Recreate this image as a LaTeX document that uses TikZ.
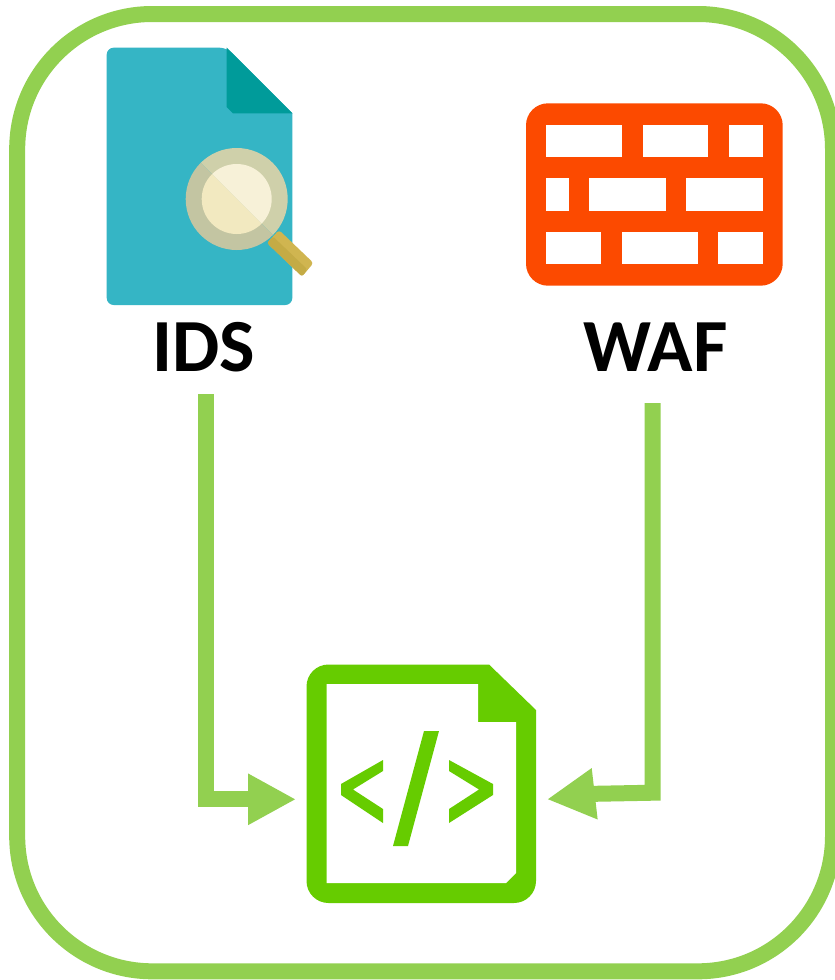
\documentclass[tikz,border=0pt]{standalone}
\usepackage{fontspec}
\setmainfont{Carlito}
\usetikzlibrary{arrows.meta}
\definecolor{framegreen}{HTML}{92D050}
\definecolor{codegreen}{HTML}{66CC00}
\definecolor{doc}{HTML}{35B5C5}
\definecolor{fold}{HTML}{009B9A}
\definecolor{ringA}{HTML}{CFD0AA}
\definecolor{ringB}{HTML}{C3C5A2}
\definecolor{lensA}{HTML}{F7F1D8}
\definecolor{lensB}{HTML}{F2E9C0}
\definecolor{handleA}{HTML}{D0B550}
\definecolor{handleB}{HTML}{C4AB45}
\definecolor{brick}{HTML}{FC4A00}
\tikzset{
  biglabel/.style={anchor=base,inner sep=0pt,font=\fontsize{75}{75}\selectfont\bfseries},
  hole/.style={fill=white,draw=none},
  flowline/.style={draw=framegreen,line width=16pt,-{Triangle[length=48pt,width=48pt,fill=framegreen]}},
  codemark/.style={fill=codegreen,draw=none}
}
\begin{document}
\begin{tikzpicture}[x=1pt,y=-1pt]
\useasboundingbox (0,0) rectangle (835,980);
\fill[white] (0,0) rectangle (835,980);
% frame
\begin{scope}
\clip (0,0) rectangle (835,980);
\draw[framegreen,line width=16pt,rounded corners=135pt] (17.2,14) rectangle (833,971.3);
\end{scope}
% IDS icon
\fill[doc,rounded corners=7pt] (106.7,47.7) -- (226.7,47.7) [sharp corners] -- (292.3,113.3) [rounded corners=7pt] -- (292.3,305) -- (106.7,305) -- cycle;
\fill[fold] (226.7,47.7) -- (292.3,113.3) -- (233,113.3) -- (226.7,107) -- cycle;
\fill[handleA,rounded corners=3pt] (279,230) -- (313.5,263) -- (302,276.5) -- (267,243) -- cycle;
\fill[handleB,rounded corners=2pt] (273,236.5) -- (307.5,269.5) -- (302,276.5) -- (267,243) -- cycle;
\begin{scope}
  \clip (236.7,199) circle (51pt);
  \fill[ringA] (170,132) -- (304,266) -- (304,132) -- cycle;
  \fill[ringB] (170,132) -- (304,266) -- (170,266) -- cycle;
\end{scope}
\begin{scope}
  \clip (236.7,199) circle (35pt);
  \fill[lensA] (170,132) -- (304,266) -- (304,132) -- cycle;
  \fill[lensB] (170,132) -- (304,266) -- (170,266) -- cycle;
\end{scope}
% WAF icon
\fill[brick,rounded corners=22pt] (526,103.3) rectangle (782.7,285.7);
\foreach \a/\b/\c/\d in {546/622.3/125/157.3,642.7/708.3/125/157.3,729/762.7/125/157.3,
  546/568.7/178.3/211.3,589/665.7/178.3/211.3,686/762.7/178.3/211.3,
  546/600.7/232/264.3,622.3/697.7/232/264.3,718.3/762.7/232/264.3}
  \fill[hole] (\a,\c) rectangle (\b,\d);
% code icon
\fill[codegreen,rounded corners=22pt] (306.5,664.5) [sharp corners] -- (489,664.5) -- (536,710) [rounded corners=22pt] -- (536,903) -- (306.5,903) -- cycle;
\fill[white] (326.5,684) -- (478,684) -- (478,722) -- (516,722) -- (516,873) -- (506,883) -- (326.5,883) -- cycle;
\fill[codemark] (383,760) -- (383,771) -- (353,789.5) -- (383,809) -- (383,823) -- (341,795) -- (341,784) -- cycle;
\fill[codemark] (449,760) -- (449,771) -- (479,789.5) -- (449,809) -- (449,823) -- (493,795) -- (493,784) -- cycle;
\fill[codemark] (424,731) -- (439,731) -- (408,846) -- (393,846) -- cycle;
% labels
\node[biglabel] (ids) at (204,371) {IDS};
\node[biglabel] (waf) at (655.5,371) {WAF};
\node[inner sep=0pt,minimum width=229.5pt,minimum height=238.5pt] (code) at (421.2,783.7) {};
% connectors
\coordinate (idsOut) at (206,394);
\coordinate (wafOut) at (652.7,403);
\coordinate (codeLeft) at (296,799.3);
\coordinate (codeRight) at (547,799.3);
\draw[flowline] (idsOut) |- (codeLeft);
\draw[flowline] (wafOut) -- (652.7,792.7) -- (594.5,793.8) -- (codeRight);
\end{tikzpicture}
\end{document}
